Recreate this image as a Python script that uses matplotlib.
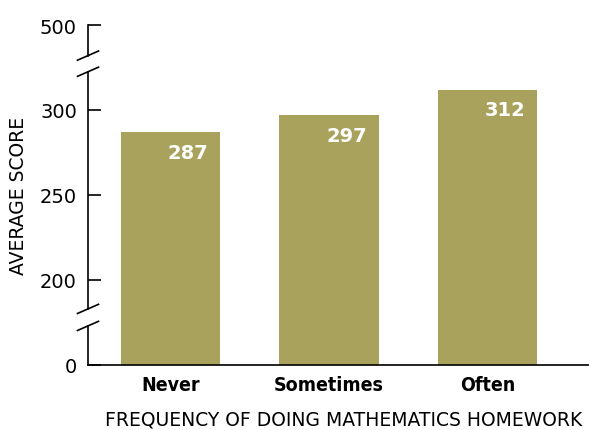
import matplotlib.pyplot as plt
from matplotlib import lines

categories = ["Never", "Sometimes", "Often"]
scores = [287, 297, 312]
tick_values = [0, 200, 250, 300, 500]

# broken axis: 0 is drawn at 150 and 500 at 350 on the drawn scale
def to_axis(v):
    if v == 0:
        return 150
    if v == 500:
        return 350
    return v

fig = plt.figure(figsize=(5.89, 4.31), dpi=100)
ax = fig.add_axes([88 / 589, 65 / 431, 1 - 88 / 589, 340 / 431])
ax.set_xlim(-0.52, 2.64)
ax.set_ylim(150, 350)

x = range(len(categories))
ax.bar(x, [s - 150 for s in scores], bottom=150, width=0.63, color="#a8a25c")

for i, s in enumerate(scores):
    ax.text(i + 0.11, s - 12, str(s), color="white", fontsize=14, fontweight="bold",
            ha="center", va="center")

for side in ["top", "right", "left"]:
    ax.spines[side].set_visible(False)
ax.spines["bottom"].set_linewidth(1.2)

ax.set_yticks([to_axis(v) for v in tick_values])
ax.set_yticklabels([str(v) for v in tick_values], fontsize=14)
ax.tick_params(axis="y", direction="in", length=9, width=1.2, pad=8)
ax.set_xticks(list(x))
ax.set_xticklabels(categories, fontsize=14, fontweight="bold", fontstretch="condensed")
ax.tick_params(axis="x", length=0, pad=7)

# draw left axis line with gaps for the breaks
t = ax.get_yaxis_transform()
breaks = [173, 183, 322.5, 332]
segments = [(150, 173), (183, 322.5), (332, 350)]
for y0, y1 in segments:
    ax.add_line(lines.Line2D([0, 0], [y0, y1], transform=t, color="black",
                             linewidth=1.2, clip_on=False))

# slash marks at the breaks
for yb in breaks:
    ax.add_line(lines.Line2D([-0.021, 0.021], [yb - 2.7, yb + 2.7], transform=t,
                             color="black", linewidth=1.2, clip_on=False))

ax.set_ylabel("AVERAGE SCORE", fontsize=13.5)
ax.yaxis.set_label_coords(-0.12, 0.5)

fig.text(344 / 589, 11 / 431, "FREQUENCY OF DOING MATHEMATICS HOMEWORK",
         fontsize=13.5, ha="center", va="center")

fig.savefig("out.png", dpi=100)
